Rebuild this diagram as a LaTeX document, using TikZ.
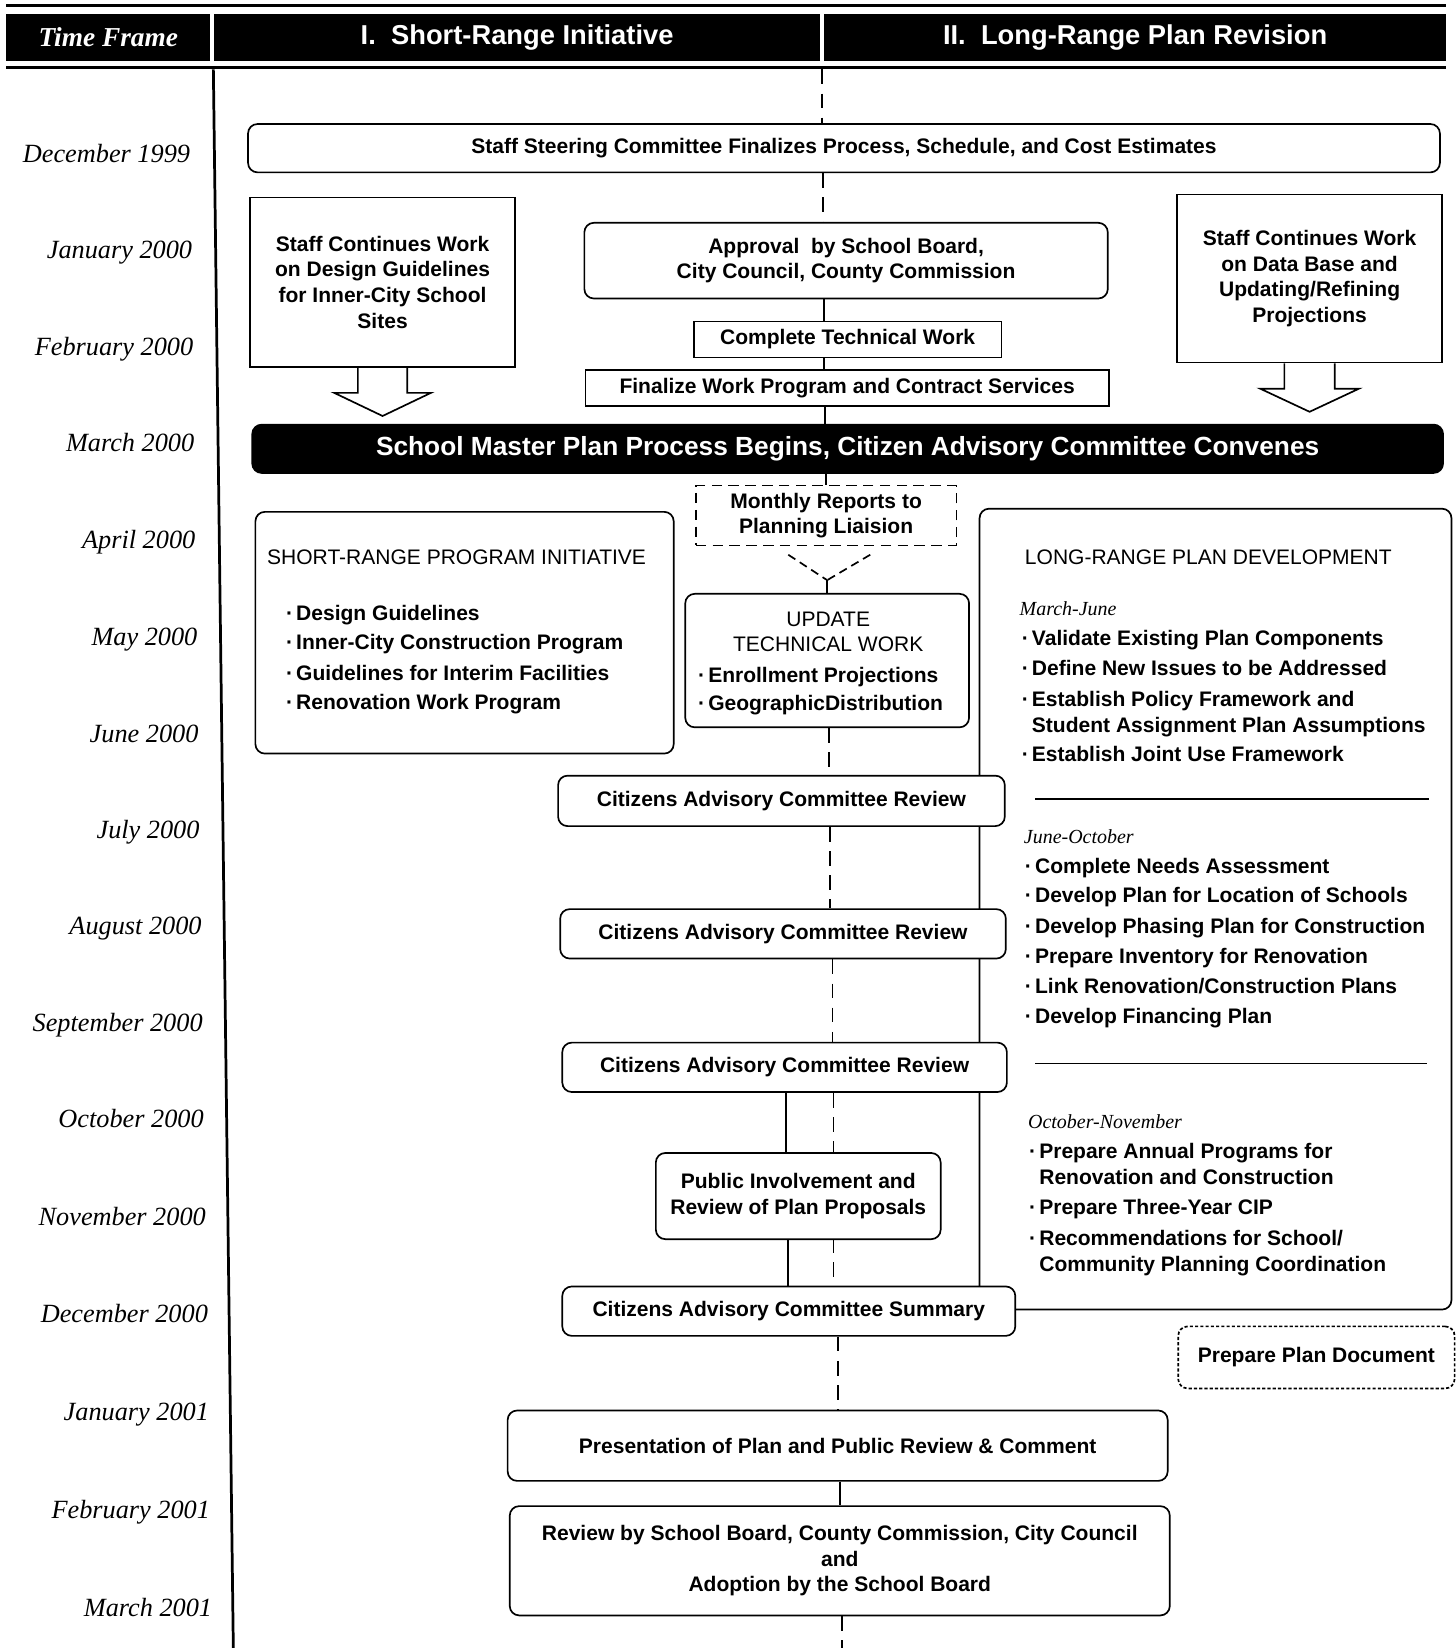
\documentclass[tikz,border=0pt]{standalone}
\usepackage{fontspec}
\setmainfont{Liberation Sans}
\newfontfamily\tfont{Liberation Serif}
\usetikzlibrary{calc}
\pgfdeclarelayer{bg}
\pgfsetlayers{bg,main}
\newcommand\itembul{·\hspace{3pt}}
\tikzset{
  sz/.style 2 args={minimum width=#1pt, minimum height=#2pt},
  bx/.style={draw, line width=1.6pt, rounded corners=9pt, fill=white, align=center, inner sep=0pt, font=\fontsize{20}{24.5}\selectfont\bfseries},
  sq/.style={bx, sharp corners},
  hcell/.style={fill=black, text=white, inner sep=0pt, align=center},
  ln/.style={anchor=base west, inner sep=0pt, font=\fontsize{20}{24}\selectfont\bfseries},
  lnr/.style={anchor=base west, inner sep=0pt, font=\fontsize{20}{24}\selectfont},
  sub/.style={anchor=base west, inner sep=0pt, font=\fontsize{19}{22}\selectfont\tfont\itshape},
  tf/.style={anchor=base east, inner sep=0pt, font=\fontsize{25}{28}\selectfont\tfont\itshape},
  conn/.style={line width=1.6pt},
  dconn/.style={line width=1.6pt, dash pattern=on 14pt off 9pt},
}
\begin{document}
\begin{tikzpicture}[x=1pt,y=-1pt]
\useasboundingbox (0,0) rectangle (1385,1568);
\begin{pgfonlayer}{bg}
\fill[white] (0,0) rectangle (1385,1568);
\end{pgfonlayer}

% header
\draw[line width=3pt] (6,5) -- (1376,5);
\draw[line width=3pt] (6,64) -- (1376,64);
\node[hcell, sz={194}{45}, font=\fontsize{26}{28}\selectfont\tfont\bfseries\itshape] (h1) at (103,35.5) {Time Frame};
\node[hcell, sz={576}{45}, font=\fontsize{26}{30}\selectfont\bfseries] (h2) at (492,35.5) {I.\ \ Short-Range Initiative};
\node[hcell, sz={592}{45}, font=\fontsize{26}{30}\selectfont\bfseries] (h3) at (1080,35.5) {II.\ \ Long-Range Plan Revision};

% time line
\coordinate (tl0) at (203,66);
\coordinate (tl1) at (222,1568);
\draw[line width=2.6pt] (tl0) -- (tl1);

% time labels
\foreach \xx/\yy/\lab [count=\i] in {181/155/December 1999, 183/246/January 2000, 184/338/February 2000, 185/430/March 2000, 186/522/April 2000, 188/614/May 2000, 189/706/June 2000, 190/798/July 2000, 192/889/August 2000, 193/981/September 2000, 194/1073/October 2000, 196/1166/November 2000, 198/1258/December 2000, 199/1352/January 2001, 200/1445/February 2001, 202/1538/March 2001}
  \node[tf] (t\i) at (\xx,\yy) {\lab};

% upper boxes
\node[bx, sz={1134}{46}] (steer) at (803,141) {Staff Steering Committee Finalizes Process, Schedule, and Cost Estimates};
\node[sq, sz={252}{161}] (lbox) at (364,268.5) {Staff Continues Work\\on Design Guidelines\\for Inner-City School\\Sites};
\node[bx, sz={498}{72}] (appr) at (805,248) {Approval\ \ by School Board,\\City Council, County Commission};
\node[sq, sz={293}{34}] (ctw) at (806.5,323) {Complete Technical Work};
\node[sq, sz={498}{34}] (fin) at (806,369) {Finalize Work Program and Contract Services};
\node[sq, sz={252}{160}] (rbox) at (1246,265) {Staff Continues Work\\on Data Base and\\Updating/Refining\\Projections};

% block arrows
\draw[conn] ([xshift=-23.5pt]lbox.south) -- ++(0,24) -- ++(-22.5,0) -- ($(lbox.south)+(0,46)$) -- ($(lbox.south)+(46,24)$) -- ++(-22.5,0) -- ++(0,-24);
\draw[conn] ([xshift=-24pt]rbox.south) -- ++(0,24) -- ++(-23,0) -- ($(rbox.south)+(0,46)$) -- ($(rbox.south)+(47,24)$) -- ++(-23,0) -- ++(0,-24);

\node[bx, sz={1133}{46}, fill=black, text=white, font=\fontsize{25}{28}\selectfont\bfseries] (bar) at (806.5,427) {School Master Plan Process Begins, Citizen Advisory Committee Convenes};
\node[sq, sz={248}{57}, dash pattern=on 10pt off 6pt] (mon) at (786,490.5) {Monthly Reports to\\Planning Liaision};

% short range box
\node[bx, sz={398}{230}] (srp) at (442,602) {};
\node[lnr] (s0) at (254,537) {SHORT-RANGE PROGRAM INITIATIVE};
\foreach \yy/\lab [count=\i] in {590/{Design Guidelines}, 618/{Inner-City Construction Program}, 647/{Guidelines for Interim Facilities}, 675/{Renovation Work Program}}
  \node[ln] (s\i) at (272,\yy) {\itembul\lab};

% update box
\node[bx, sz={270}{127}] (upd) at (787,628.5) {};
\node[lnr, anchor=base] (u0) at (788,596) {UPDATE};
\node[lnr, anchor=base] (u1) at (788,620) {TECHNICAL WORK};
\node[ln] (u2) at (664,649) {\itembul Enrollment Projections};
\node[ln] (u3) at (664,676) {\itembul GeographicDistribution};

% long range box
\node[bx, sz={449}{762}] (lrp) at (1156.5,865) {};
\node[lnr] (l0) at (975,537) {LONG-RANGE PLAN DEVELOPMENT};
\node[sub] (la0) at (970,586) {March-June};
\foreach \yy/\lab [count=\i] in {614/{Validate Existing Plan Components}, 643/{Define New Issues to be Addressed}, 672/{Establish Policy Framework and}, 725/{Establish Joint Use Framework}}
  \node[ln] (la\i) at (972,\yy) {\itembul\lab};
\node[ln] (lac) at (972,697) {\phantom{\itembul}Student Assignment Plan Assumptions};
\draw[conn] (985,760) -- (1360,760);
\node[sub] (lb0) at (974,803) {June-October};
\foreach \yy/\lab [count=\i] in {831/{Complete Needs Assessment}, 859/{Develop Plan for Location of Schools}, 888/{Develop Phasing Plan for Construction}, 917/{Prepare Inventory for Renovation}, 945/{Link Renovation/Construction Plans}, 974/{Develop Financing Plan}}
  \node[ln] (lb\i) at (975,\yy) {\itembul\lab};
\draw[conn] (985,1012) -- (1358,1012);
\node[sub] (lc0) at (978,1074) {October-November};
\foreach \yy/\lab [count=\i] in {1102/{Prepare Annual Programs for}, 1156/{Prepare Three-Year CIP}, 1185/{Recommendations for School/}}
  \node[ln] (lc\i) at (979,\yy) {\itembul\lab};
\node[ln] (lcc1) at (979,1127) {\phantom{\itembul}Renovation and Construction};
\node[ln] (lcc2) at (979,1210) {\phantom{\itembul}Community Planning Coordination};

% review chain
\node[bx, sz={425}{48}] (cac1) at (743.5,762) {Citizens Advisory Committee Review};
\node[bx, sz={424}{47}] (cac2) at (745,888.5) {Citizens Advisory Committee Review};
\node[bx, sz={423}{47}] (cac3) at (746.5,1015.5) {Citizens Advisory Committee Review};
\node[bx, sz={431}{47}] (summ) at (750.5,1247.5) {Citizens Advisory Committee Summary};
\node[bx, sz={271}{82}] (pub) at (759.5,1138) {Public Involvement and\\Review of Plan Proposals};
\node[bx, sz={263}{59}, dash pattern=on 3pt off 2pt] (prep) at (1252.5,1291.5) {Prepare Plan Document};
\node[bx, sz={628}{67}] (pres) at (797,1375.5) {Presentation of Plan and Public Review \& Comment};
\node[bx, sz={628}{104}] (rev) at (799,1485) {Review by School Board, County Commission, City Council\\and\\Adoption by the School Board};

% connectors
\coordinate (top0) at (782,66);
\coordinate (x1) at (783,0);
\coordinate (x2) at (784,0);
\coordinate (x3) at (785,0);
\coordinate (x4) at (786,0);
\coordinate (fj) at (787,552);
\coordinate (x6) at (789,0);
\coordinate (x7) at (790,0);
\coordinate (x8) at (792,0);
\coordinate (x9) at (793,0);
\coordinate (x10) at (748,0);
\coordinate (x11) at (750,0);
\coordinate (x12) at (797,0);
\coordinate (x13) at (799,0);
\coordinate (endb) at (801,1568);
\begin{pgfonlayer}{bg}
\draw[dconn] (top0) -- (top0 |- steer.north);
\draw[dconn] (steer.south -| x1) -- (appr.north -| x1);
\draw[conn] (appr.south -| x2) -- (ctw.north -| x2);
\draw[conn] (ctw.south -| x2) -- (fin.north -| x2);
\draw[conn] (fin.south -| x3) -- (bar.north -| x3);
\draw[conn] (bar.south -| x4) -- (mon.north -| x4);
\draw[conn, dash pattern=on 8pt off 5pt] ([xshift=-36pt,yshift=-8pt]mon.south) -- (fj);
\draw[conn, dash pattern=on 8pt off 5pt] ([xshift=42pt,yshift=-8pt]mon.south) -- (fj);
\draw[conn] (fj) -- (fj |- upd.north);
\draw[dconn] (upd.south -| x6) -- (cac1.north -| x6);
\draw[dconn] (cac1.south -| x7) -- (cac2.north -| x7);
\draw[dconn] (cac2.south -| x8) -- (cac3.north -| x8);
\draw[dconn] (cac3.south -| x9) -- (summ.north -| x9);
\draw[conn] (cac3.south -| x10) -- (pub.north -| x10);
\draw[conn] (pub.south -| x11) -- (summ.north -| x11);
\draw[dconn] (summ.south -| x12) -- (pres.north -| x12);
\draw[conn] (pres.south -| x13) -- (rev.north -| x13);
\draw[dconn] (rev.south -| endb) -- (endb);
\end{pgfonlayer}
\end{tikzpicture}
\end{document}
